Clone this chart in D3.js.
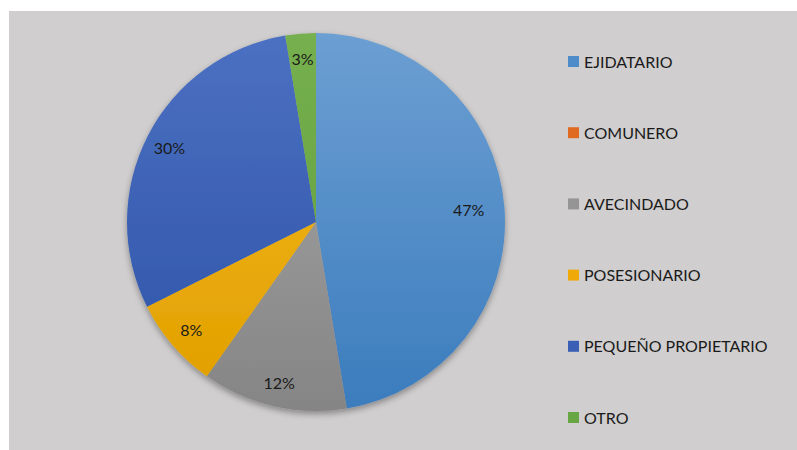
<!DOCTYPE html>
<html><head><meta charset="utf-8">
<script src="https://cdn.jsdelivr.net/npm/d3@7"></script>
<style>html,body{margin:0;padding:0;background:#fff;}svg{display:block;}</style>
</head><body>
<svg id="chart" width="797" height="450"></svg>
<script>
const categories = ["EJIDATARIO","COMUNERO","AVECINDADO","POSESIONARIO","PEQUEÑO PROPIETARIO","OTRO"];
const values = [47.4, 0, 12.4, 7.8, 29.8, 2.6];
const colorsTop = ["#6c9fd2","#ee7f3a","#a8a8a8","#f6bb1a","#4c70c2","#76b04f"];
const colorsBottom = ["#3b7cbd","#d9651d","#858585","#e09e00","#2c52a6","#5f9c3a"];
const legendColors = ["#4e8cc9","#e06a22","#959595","#efaa0a","#3a5fb5","#68a543"];

const svg = d3.select("#chart");
const W = 797, H = 450;
svg.append("rect").attr("x", 9).attr("y", 11).attr("width", W - 9).attr("height", H - 11).attr("fill", "#d0cece");

const cx = 316, cy = 222, r = 189;
const defs = svg.append("defs");
categories.forEach((c, i) => {
  const g = defs.append("linearGradient").attr("id", "g" + i)
    .attr("gradientUnits", "userSpaceOnUse")
    .attr("x1", 0).attr("y1", -r).attr("x2", 0).attr("y2", r);
  g.append("stop").attr("offset", "0%").attr("stop-color", colorsTop[i]);
  g.append("stop").attr("offset", "100%").attr("stop-color", colorsBottom[i]);
});
const f = defs.append("filter").attr("id", "sh").attr("x", "-20%").attr("y", "-20%").attr("width", "140%").attr("height", "140%");
f.append("feDropShadow").attr("dx", 0).attr("dy", 3).attr("stdDeviation", 3).attr("flood-color", "#000").attr("flood-opacity", 0.35);

const pie = d3.pie().sort(null).value(d => d);
const arcs = pie(values);
const arc = d3.arc().innerRadius(0).outerRadius(r);

const g = svg.append("g").attr("transform", `translate(${cx},${cy})`);
const pg = g.append("g").attr("filter", "url(#sh)");
pg.selectAll("path").data(arcs).join("path")
  .attr("d", arc).attr("fill", (d, i) => `url(#g${i})`);

const total = d3.sum(values);
g.selectAll("text").data(arcs.filter(d => d.data > 0)).join("text")
  .attr("transform", d => {
    const m = (d.startAngle + d.endAngle) / 2;
    const t = d.data / total > 0.4 ? r * 0.81 : r * 0.87;
    return `translate(${Math.sin(m) * t},${-Math.cos(m) * t})`;
  })
  .attr("text-anchor", "middle").attr("dominant-baseline", "central")
  .attr("font-family", "Lato, 'Open Sans', sans-serif").attr("font-size", 16)
  .attr("fill", "#1a1a1a")
  .text(d => Math.round(d.data / total * 100) + "%");

const legY = d3.scalePoint().domain(categories).range([61, 417]);
const lg = svg.append("g");
categories.forEach((c, i) => {
  const y = legY(c);
  lg.append("rect").attr("x", 568).attr("y", y - 5).attr("width", 11).attr("height", 11).attr("fill", legendColors[i]);
  lg.append("text").attr("x", 584).attr("y", y).attr("dominant-baseline", "central")
    .attr("font-family", "Lato, 'Open Sans', sans-serif").attr("font-size", 16)
    .attr("fill", "#1a1a1a").text(c);
});
</script>
</body></html>
